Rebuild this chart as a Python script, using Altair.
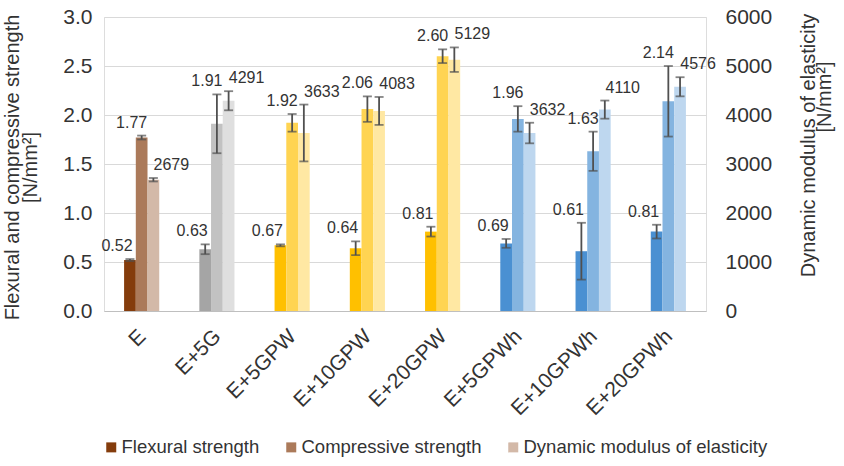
import altair as alt
import pandas as pd

cats = ["E", "E+5G", "E+5GPW", "E+10GPW", "E+20GPW", "E+5GPWh", "E+10GPWh", "E+20GPWh"]
series_names = ["Flexural strength", "Compressive strength", "Dynamic modulus of elasticity"]

flex = [0.52, 0.63, 0.67, 0.64, 0.81, 0.69, 0.61, 0.81]
flex_err = [0.01, 0.05, 0.01, 0.07, 0.05, 0.045, 0.29, 0.07]
comp = [1.77, 1.91, 1.92, 2.06, 2.60, 1.96, 1.63, 2.14]
comp_err = [0.02, 0.30, 0.09, 0.13, 0.07, 0.13, 0.20, 0.36]
dyn = [2679, 4291, 3633, 4083, 5129, 3632, 4110, 4576]
dyn_err = [35, 195, 580, 285, 250, 210, 185, 195]

base_colors = ["#843C0C", "#A5A5A5", "#FFC000", "#FFC000", "#FFC000",
               "#4A90D2", "#4A90D2", "#4A90D2"]
FONT = "Liberation Sans"
TXT = "#333333"
FS = 21


def tint(hexc, f):
    h = hexc.lstrip("#")
    r, g, b = (int(h[i:i + 2], 16) for i in (0, 2, 4))
    r, g, b = (round(c * f + 255 * (1 - f)) for c in (r, g, b))
    return "#%02X%02X%02X" % (r, g, b)


shade = {series_names[0]: 1.0, series_names[1]: 0.68, series_names[2]: 0.36}

keys, key_colors = [], []
for c, col in zip(cats, base_colors):
    for s in series_names:
        keys.append(c + "|" + s)
        key_colors.append(tint(col, shade[s]))

rows_left = []
for c, v, e in zip(cats, flex, flex_err):
    rows_left.append(dict(cat=c, series=series_names[0], value=v, lo=v - e, hi=v + e,
                          label=f"{v:.2f}", key=c + "|" + series_names[0]))
for c, v, e in zip(cats, comp, comp_err):
    rows_left.append(dict(cat=c, series=series_names[1], value=v, lo=v - e, hi=v + e,
                          label=f"{v:.2f}", key=c + "|" + series_names[1]))
left_df = pd.DataFrame(rows_left)

right_df = pd.DataFrame([
    dict(cat=c, series=series_names[2], value=v, lo=v - e, hi=v + e,
         label=f"{v:d}", key=c + "|" + series_names[2])
    for c, v, e in zip(cats, dyn, dyn_err)
])

legend_df = pd.DataFrame({"cat": ["E"] * 3, "series": series_names, "zero": [0, 0, 0]})

x_enc = alt.X("cat:N", sort=cats,
              scale=alt.Scale(domain=cats, paddingInner=0.533, paddingOuter=0.267),
              axis=alt.Axis(title=None, labelAngle=-45, labelAlign="right",
                            labelBaseline="middle", labelPadding=22, labelOffset=1,
                            ticks=False, domainColor="#BFBFBF", domainWidth=1.2,
                            labelFontSize=FS, labelColor=TXT, labelFont=FONT))
xo_enc = alt.XOffset("series:N", scale=alt.Scale(domain=series_names, paddingInner=0,
                                                   paddingOuter=0))
color_enc = alt.Color("key:N", scale=alt.Scale(domain=keys, range=key_colors), legend=None)

y_left = alt.Y("value:Q", scale=alt.Scale(domain=[0, 3]),
               axis=alt.Axis(values=[0, 0.5, 1, 1.5, 2, 2.5, 3], format=".1f",
                             grid=True, gridColor="#D9D9D9", gridWidth=1.2,
                             domain=False, ticks=False, labelPadding=12,
                             labelFontSize=FS, labelColor=TXT, labelFont=FONT,
                             title=["Flexural and compressive strength", "[N/mm²]"],
                             titleFontSize=20, titleFontWeight="normal", titleColor=TXT,
                             titleFont=FONT, titleAngle=270, titleAlign="center",
                             titleBaseline="middle", titleLineHeight=18,
                             titleX=-92, titleY=150))
y_right = alt.Y("value:Q", scale=alt.Scale(domain=[0, 6000]),
                axis=alt.Axis(orient="right", values=[0, 1000, 2000, 3000, 4000, 5000, 6000],
                              format="d",
                              grid=False, domain=False, ticks=False, labelPadding=19,
                              labelFontSize=FS, labelColor=TXT, labelFont=FONT,
                              title="Dynamic modulus of elasticity",
                              titleFontSize=20, titleFontWeight="normal", titleColor=TXT,
                              titleFont=FONT, titleAngle=270, titleAlign="center",
                              titleBaseline="middle", titleX=102, titleY=128))

ERR = "#505050"


def layer_for(df, y_enc, scale_dom, dx_map):
    base = alt.Chart(df)
    bars = base.mark_bar().encode(x=x_enc, xOffset=xo_enc, y=y_enc, color=color_enc)
    yscale = alt.Scale(domain=scale_dom)
    rule = base.mark_rule(color=ERR, strokeWidth=1.8).encode(
        x=x_enc, xOffset=xo_enc, y=alt.Y("lo:Q", scale=yscale), y2="hi:Q")
    cap_hi = base.mark_tick(color=ERR, thickness=1.8, size=9).encode(
        x=x_enc, xOffset=xo_enc, y=alt.Y("hi:Q", scale=yscale))
    cap_lo = base.mark_tick(color=ERR, thickness=1.8, size=9).encode(
        x=x_enc, xOffset=xo_enc, y=alt.Y("lo:Q", scale=yscale))
    texts = []
    for s, dx in dx_map.items():
        texts.append(base.transform_filter(alt.datum.series == s).mark_text(
            baseline="bottom", dy=-5, dx=dx, fontSize=16, font=FONT, color=TXT).encode(
            x=x_enc, xOffset=xo_enc, y=alt.Y("hi:Q", scale=yscale), text="label:N"))
    return [bars, rule, cap_hi, cap_lo] + texts


legend_layer = alt.Chart(legend_df).mark_bar().encode(
    x=x_enc,
    y=alt.Y("zero:Q", scale=alt.Scale(domain=[0, 3])),
    fill=alt.Fill("series:N",
                  scale=alt.Scale(domain=series_names,
                                  range=[tint("#843C0C", shade[s]) for s in series_names]),
                  legend=alt.Legend(title=None, orient="none", legendX=-2, legendY=421,
                                    direction="horizontal", symbolType="square",
                                    symbolSize=100, symbolStrokeWidth=0,
                                    labelFontSize=18.5, labelFont=FONT, labelColor=TXT,
                                    labelLimit=400, columnPadding=22, labelOffset=1)))

left = alt.layer(*layer_for(left_df, y_left, [0, 3],
                            {series_names[0]: -13, series_names[1]: -10}), legend_layer)
right = alt.layer(*layer_for(right_df, y_right, [0, 6000], {series_names[2]: 18}))

unit_text = alt.Chart(pd.DataFrame({"t": ["[N/mm²]"]})).mark_text(
    angle=270, fontSize=20, font=FONT, color=TXT, align="center", baseline="middle").encode(
    x=alt.value(721), y=alt.value(80), text="t:N")

chart = alt.layer(left, right, unit_text).resolve_scale(y="independent").properties(
    width=602, height=294,
    autosize=alt.AutoSizeParams(type="none"),
    padding={"left": 104, "top": 17, "right": 138, "bottom": 155},
).configure_view(stroke=None).configure(background="white")

chart.save("out.html", embed_options={"renderer": "svg", "actions": False})
